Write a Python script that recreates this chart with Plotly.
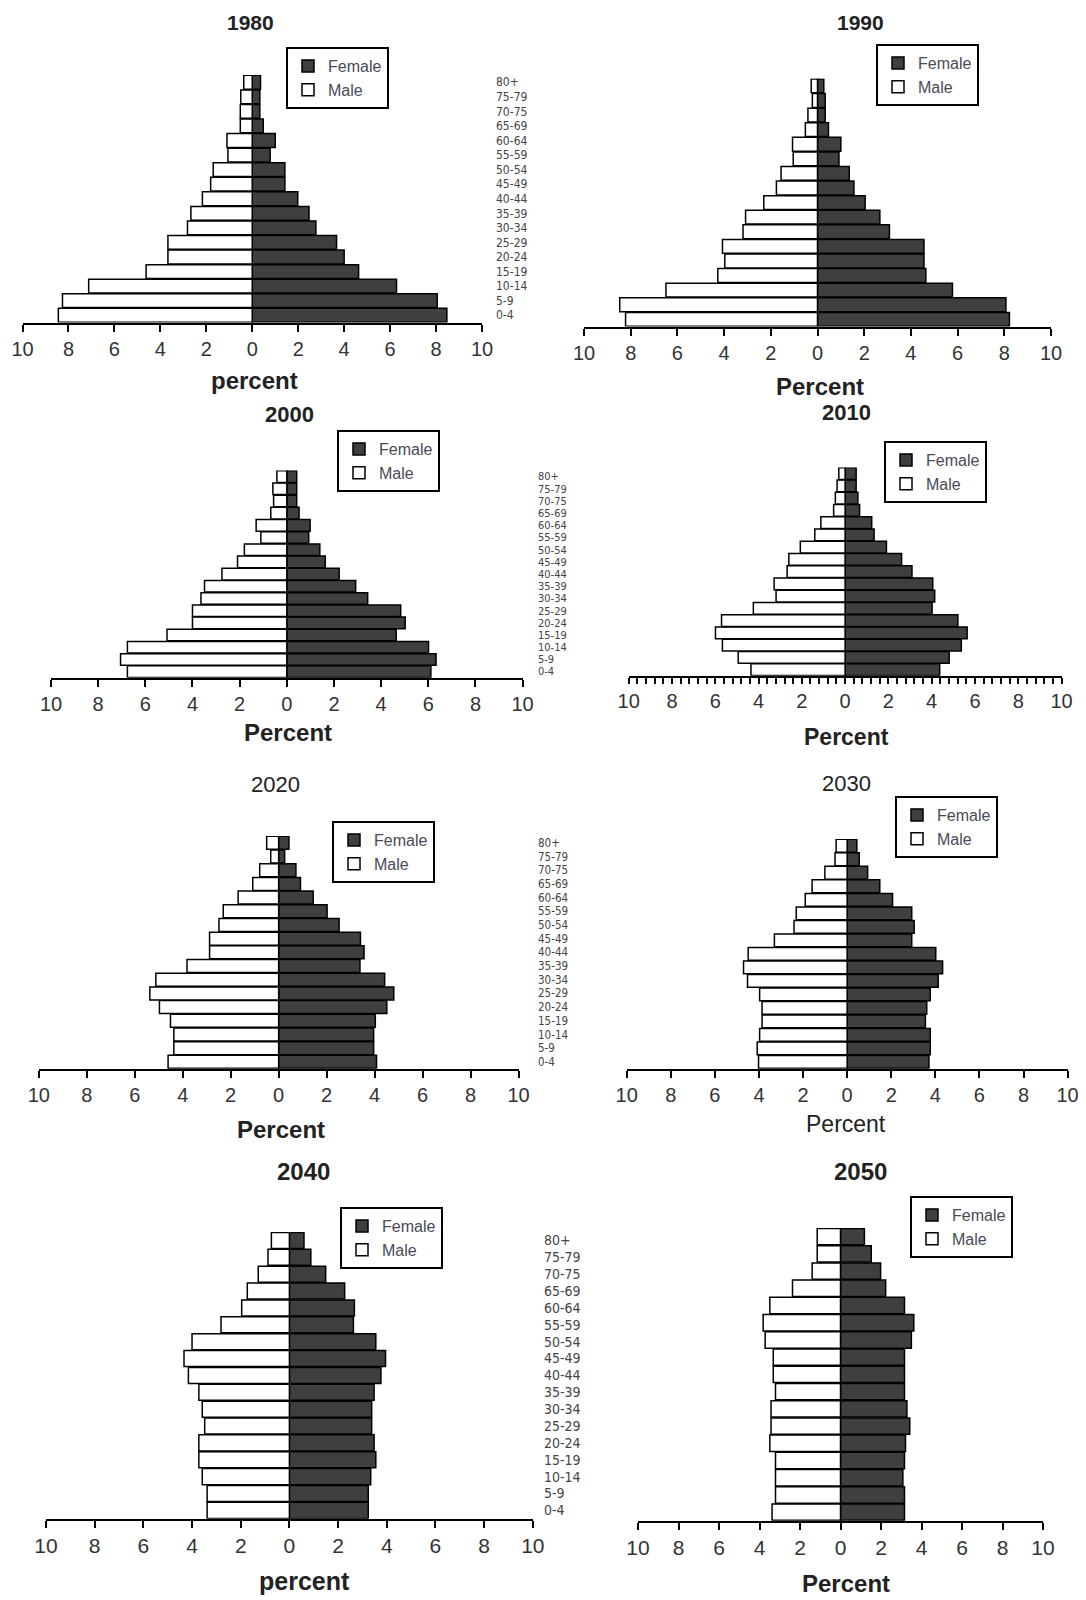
import plotly.graph_objects as go

PAGE_W, PAGE_H = 1086, 1600
OFF = 8                      # default page (body) margin of the browser
W, H = PAGE_W - OFF, PAGE_H - OFF

# ---------------- data ----------------
ages = ["0-4", "5-9", "10-14", "15-19", "20-24", "25-29", "30-34", "35-39", "40-44",
        "45-49", "50-54", "55-59", "60-64", "65-69", "70-75", "75-79", "80+"]

tick_vals = [-10, -8, -6, -4, -2, 0, 2, 4, 6, 8, 10]
tick_text = ["10", "8", "6", "4", "2", "0", "2", "4", "6", "8", "10"]

years = ["1980", "1990", "2000", "2010", "2020", "2030", "2040", "2050"]

# percent of population, listed from 0-4 (bottom) to 80+ (top)
female_1980 = [8.47, 8.05, 6.28, 4.63, 4.0, 3.67, 2.77, 2.47, 1.98, 1.42, 1.42, 0.78, 1.0, 0.48, 0.33, 0.33, 0.36]
male_1980 = [8.44, 8.26, 7.12, 4.62, 3.67, 3.67, 2.82, 2.67, 2.17, 1.81, 1.7, 1.06, 1.1, 0.52, 0.52, 0.5, 0.37]

female_1990 = [8.22, 8.07, 5.78, 4.64, 4.56, 4.56, 3.08, 2.67, 2.04, 1.56, 1.36, 0.92, 1.0, 0.47, 0.33, 0.33, 0.27]
male_1990 = [8.22, 8.47, 6.49, 4.27, 3.97, 4.07, 3.19, 3.08, 2.3, 1.76, 1.56, 1.04, 1.07, 0.52, 0.41, 0.22, 0.27]

female_2000 = [6.11, 6.33, 6.01, 4.64, 5.02, 4.83, 3.43, 2.92, 2.22, 1.63, 1.4, 0.93, 0.99, 0.52, 0.42, 0.42, 0.42]
male_2000 = [6.76, 7.05, 6.76, 5.08, 4.0, 4.0, 3.64, 3.49, 2.75, 2.09, 1.8, 1.1, 1.3, 0.68, 0.56, 0.59, 0.42]

female_2010 = [4.37, 4.81, 5.37, 5.64, 5.21, 4.02, 4.14, 4.05, 3.09, 2.61, 1.91, 1.34, 1.23, 0.67, 0.59, 0.51, 0.51]
male_2010 = [4.35, 4.94, 5.67, 5.99, 5.71, 4.24, 3.19, 3.28, 2.68, 2.6, 2.07, 1.4, 1.12, 0.53, 0.45, 0.37, 0.29]

female_2020 = [4.08, 3.96, 3.96, 4.03, 4.51, 4.8, 4.42, 3.39, 3.56, 3.41, 2.52, 2.02, 1.44, 0.91, 0.72, 0.25, 0.43]
male_2020 = [4.61, 4.37, 4.37, 4.51, 4.97, 5.37, 5.12, 3.82, 2.88, 2.88, 2.49, 2.31, 1.69, 1.08, 0.79, 0.33, 0.5]

female_2030 = [3.71, 3.77, 3.77, 3.55, 3.61, 3.77, 4.13, 4.33, 4.02, 2.93, 3.04, 2.93, 2.06, 1.48, 0.93, 0.55, 0.44]
male_2030 = [4.02, 4.08, 3.97, 3.86, 3.86, 3.97, 4.52, 4.7, 4.49, 3.3, 2.41, 2.31, 1.9, 1.59, 1.01, 0.55, 0.5]

female_2040 = [3.24, 3.24, 3.34, 3.55, 3.48, 3.38, 3.38, 3.48, 3.76, 3.95, 3.55, 2.63, 2.67, 2.27, 1.49, 0.88, 0.6]
male_2040 = [3.38, 3.38, 3.58, 3.72, 3.72, 3.48, 3.58, 3.72, 4.15, 4.33, 4.0, 2.81, 1.96, 1.73, 1.28, 0.88, 0.74]

female_2050 = [3.16, 3.16, 3.08, 3.16, 3.21, 3.42, 3.28, 3.16, 3.16, 3.16, 3.5, 3.62, 3.16, 2.23, 1.98, 1.52, 1.18]
male_2050 = [3.38, 3.21, 3.21, 3.21, 3.49, 3.43, 3.43, 3.21, 3.32, 3.32, 3.72, 3.82, 3.49, 2.37, 1.4, 1.15, 1.15]

female = dict(zip(years, [female_1980, female_1990, female_2000, female_2010,
                          female_2020, female_2030, female_2040, female_2050]))
male = dict(zip(years, [male_1980, male_1990, male_2000, male_2010,
                        male_2020, male_2030, male_2040, male_2050]))

axis_titles = ["percent", "Percent", "Percent", "Percent", "Percent", "Percent", "percent", "Percent"]

# ---------------- layout config (page-pixel geometry of each panel) ----------------
panels = [
    dict(x0=22.5, x1=482, yt=75, yb=322.5, tx=250, ty=22.5, tbold=True, tsize=21,
         ax=254, ay=380, abold=True, asize=24, lx=286, ly=47, lab=495, labsize=12, tf=20, minor=False),
    dict(x0=584, x1=1051, yt=78.6, yb=326.6, tx=860, ty=22.5, tbold=True, tsize=21,
         ax=820, ay=386, abold=True, asize=24, lx=876, ly=44, lab=None, labsize=0, tf=20, minor=False),
    dict(x0=51, x1=522.6, yt=470.5, yb=677.7, tx=289, ty=414, tbold=True, tsize=22,
         ax=288, ay=732, abold=True, asize=24, lx=337, ly=430, lab=537, labsize=11, tf=20, minor=False),
    dict(x0=628.7, x1=1061.5, yt=467.5, yb=675.7, tx=846, ty=413, tbold=True, tsize=22,
         ax=846, ay=737, abold=True, asize=23, lx=884, ly=441, lab=None, labsize=0, tf=20, minor=True),
    dict(x0=38.8, x1=518.5, yt=836, yb=1068.7, tx=275.6, ty=784, tbold=False, tsize=22,
         ax=281, ay=1129, abold=True, asize=24, lx=332, ly=821, lab=537, labsize=11.5, tf=20, minor=False),
    dict(x0=626.7, x1=1067.6, yt=839, yb=1068.7, tx=846, ty=783, tbold=False, tsize=22,
         ax=846, ay=1124, abold=False, asize=23, lx=895, ly=796, lab=None, labsize=0, tf=20, minor=False),
    dict(x0=46, x1=532.8, yt=1232, yb=1518.8, tx=303, ty=1171, tbold=True, tsize=24,
         ax=305, ay=1581, abold=True, asize=25, lx=340, ly=1207, lab=543, labsize=14, tf=21, minor=False),
    dict(x0=638, x1=1043, yt=1228, yb=1520.8, tx=860, ty=1171, tbold=True, tsize=24,
         ax=846, ay=1583, abold=True, asize=24, lx=910, ly=1196, lab=None, labsize=0, tf=21, minor=False),
]


def fx(px):
    return (px - OFF) / W


def fy(py):
    return 1 - (py - OFF) / H


FONT = "Liberation Sans, Arial, Helvetica, sans-serif"
NARROW = "Liberation Sans Narrow, Arial Narrow, DejaVu Sans Condensed, sans-serif"

fig = go.Figure()
layout = dict(
    width=W, height=H,
    margin=dict(l=0, r=0, t=0, b=0, pad=0, autoexpand=False),
    paper_bgcolor="white", plot_bgcolor="white",
    barmode="relative", bargap=0.05,
    font=dict(family=FONT, color="#222"),
    annotations=[],
)

for i, (yr, p) in enumerate(zip(years, panels), start=1):
    sfx = "" if i == 1 else str(i)
    xa, ya = "x" + sfx, "y" + sfx
    leg = "legend" + sfx

    fig.add_trace(go.Bar(
        y=ages, x=female[yr], orientation="h", name="Female",
        marker=dict(color="#3f3f3f", line=dict(color="black", width=1.5)),
        xaxis=xa, yaxis=ya, legend=leg, hoverinfo="skip"))
    fig.add_trace(go.Bar(
        y=ages, x=[-v for v in male[yr]], orientation="h", name="Male",
        marker=dict(color="white", line=dict(color="black", width=1.5)),
        xaxis=xa, yaxis=ya, legend=leg, hoverinfo="skip"))

    xdict = dict(
        domain=[fx(p["x0"]), fx(p["x1"])], anchor=ya, range=[-10, 10],
        tickmode="array", tickvals=tick_vals, ticktext=tick_text,
        ticks="outside", ticklen=6 if p["minor"] else 7, tickwidth=2, tickcolor="black",
        showline=True, linewidth=2, linecolor="black",
        showgrid=False, zeroline=False, fixedrange=True, automargin=False,
        tickfont=dict(size=p["tf"], color="#333", family=FONT),
    )
    if p["minor"]:
        xdict["minor"] = dict(dtick=0.4, tick0=0, ticks="outside", ticklen=6,
                              tickwidth=1.5, tickcolor="black", showgrid=False)
    ydict = dict(
        domain=[fy(p["yb"]), fy(p["yt"])],
        type="category", range=[-0.5, 16.5],
        showgrid=False, zeroline=False, showline=False, ticks="",
        fixedrange=True, automargin=False,
    )
    if p["lab"] is not None:
        ydict.update(anchor="free", position=fx(p["lab"]), side="right",
                     showticklabels=True, ticklabelstandoff=0,
                     tickmode="array", tickvals=ages, ticktext=ages,
                     tickfont=dict(size=p["labsize"], color="#444", family=NARROW))
    else:
        ydict.update(anchor=xa, showticklabels=False)

    layout["xaxis" + sfx] = xdict
    layout["yaxis" + sfx] = ydict
    layout[leg] = dict(
        x=fx(p["lx"]), y=fy(p["ly"]), xanchor="left", yanchor="top",
        bgcolor="white", bordercolor="black", borderwidth=2,
        font=dict(size=16, color="#4a4a55", family=FONT),
        traceorder="normal", itemwidth=30, tracegroupgap=0,
    )

    layout["annotations"].append(dict(
        text=("<b>%s</b>" % yr) if p["tbold"] else yr,
        x=fx(p["tx"]), y=fy(p["ty"]), xref="paper", yref="paper",
        xanchor="center", yanchor="middle", showarrow=False,
        font=dict(size=p["tsize"], color="#222", family=FONT)))
    t = axis_titles[i - 1]
    layout["annotations"].append(dict(
        text=("<b>%s</b>" % t) if p["abold"] else t,
        x=fx(p["ax"]), y=fy(p["ay"]), xref="paper", yref="paper",
        xanchor="center", yanchor="middle", showarrow=False,
        font=dict(size=p["asize"], color="#222", family=FONT)))

fig.update_layout(**layout)
fig.write_html("out.html")
